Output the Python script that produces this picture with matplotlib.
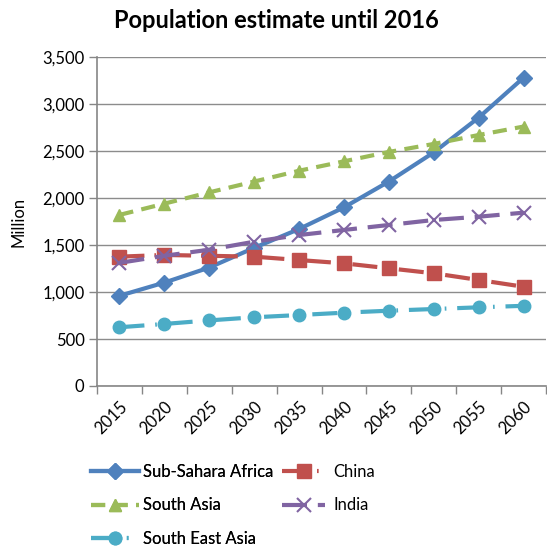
import matplotlib.pyplot as plt

plt.rcParams["font.family"] = ["Lato", "DejaVu Sans"]

TEXT_COLOR = "#000000"
GRID_COLOR = "#8c8c8c"
AXIS_COLOR = "#868686"

years = ["2015", "2020", "2025", "2030", "2035", "2040", "2045", "2050", "2055", "2060"]
sub_sahara = [960, 1100, 1260, 1470, 1670, 1900, 2175, 2485, 2855, 3280]
china = [1376, 1394, 1385, 1376, 1340, 1305, 1252, 1199, 1128, 1056]
south_asia = [1820, 1940, 2060, 2175, 2290, 2390, 2490, 2575, 2670, 2760]
india = [1310, 1385, 1450, 1535, 1606, 1660, 1713, 1766, 1801, 1844]
south_east_asia = [625, 660, 698, 731, 755, 780, 801, 819, 837, 853]

y_ticks = [0, 500, 1000, 1500, 2000, 2500, 3000, 3500]

fig = plt.figure(figsize=(5.47, 5.47), dpi=100)
ax = fig.add_axes([97 / 547, 161 / 547, 449 / 547, 329 / 547])

x = list(range(len(years)))
lw = 3.0
font_size = 12

series = [
    ("Sub-Sahara Africa", sub_sahara, "#4F81BD", "-", "D", 8),
    ("China", china, "#C0504D", (0, (6, 2.4, 0.4, 2.4)), "s", 10),
    ("South Asia", south_asia, "#9BBB59", (0, (3.4, 2.0)), "^", 9),
    ("India", india, "#8064A2", (0, (6, 2.6)), "x", 10),
    ("South East Asia", south_east_asia, "#4BACC6", (0, (6, 2.6, 0.4, 2.6)), "o", 9),
]

lines = {}
for name, values, color, ls, marker, ms in series:
    line, = ax.plot(
        x,
        values,
        color=color,
        linestyle=ls,
        linewidth=lw,
        marker=marker,
        markersize=ms,
        markeredgewidth=1.5 if marker == "x" else 1,
        markeredgecolor=color,
        markerfacecolor=color,
        label=name,
        zorder=3,
    )
    lines[name] = line

ax.set_xlim(-0.5, len(years) - 0.5)
ax.set_ylim(0, 3500)
ax.set_yticks(y_ticks)
ax.set_yticklabels([f"{v:,}" for v in y_ticks])
ax.set_xticks(x)
ax.set_xticklabels(years, rotation=45, ha="right", va="top", rotation_mode="anchor")
ax.set_xticks([i - 0.5 for i in range(len(years) + 1)], minor=True)
ax.tick_params(axis="x", which="major", length=0, pad=9, labelsize=font_size, colors=TEXT_COLOR)
ax.tick_params(axis="x", which="minor", length=6, width=1, color=AXIS_COLOR, direction="out")
ax.tick_params(axis="y", length=6, width=1, color=AXIS_COLOR, labelsize=font_size, pad=3)

ax.grid(axis="y", color=GRID_COLOR, linewidth=1)
ax.set_axisbelow(True)
for side in ["top", "right"]:
    ax.spines[side].set_visible(False)
for side in ["left", "bottom"]:
    ax.spines[side].set_color(AXIS_COLOR)
    ax.spines[side].set_linewidth(1.2)

ax.set_ylabel("Million", fontsize=font_size, labelpad=11)

fig.text(276 / 547, 1 - 20 / 547, "Population estimate until 2016",
         ha="center", va="center", fontsize=17, fontweight="bold")

legend_top = 1 - 464 / 547
left_legend = fig.legend(
    handles=[lines["Sub-Sahara Africa"], lines["South Asia"], lines["South East Asia"]],
    loc="upper left",
    bbox_to_anchor=(91 / 547, legend_top),
    frameon=False,
    fontsize=font_size,
    handlelength=2.9,
    handletextpad=0.2,
    labelspacing=1.05,
    borderpad=0,
    borderaxespad=0,
)
fig.add_artist(left_legend)
fig.legend(
    handles=[lines["China"], lines["India"]],
    loc="upper left",
    bbox_to_anchor=(282 / 547, legend_top),
    frameon=False,
    fontsize=font_size,
    handlelength=2.6,
    handletextpad=0.5,
    labelspacing=1.05,
    borderpad=0,
    borderaxespad=0,
)

fig.savefig("out.png", dpi=100, facecolor="white")
